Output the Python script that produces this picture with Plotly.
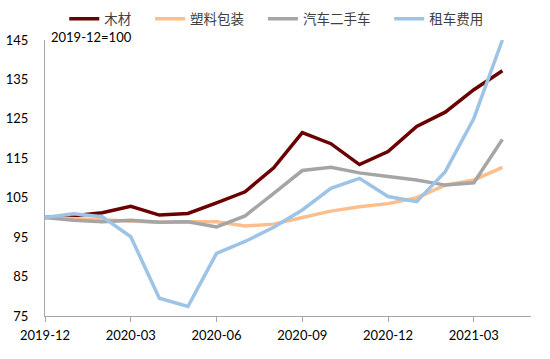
import plotly.graph_objects as go

months = ["2019-12", "2020-01", "2020-02", "2020-03", "2020-04", "2020-05", "2020-06",
          "2020-07", "2020-08", "2020-09", "2020-10", "2020-11", "2020-12",
          "2021-01", "2021-02", "2021-03", "2021-04"]
tick_labels = ["2019-12", "2020-03", "2020-06", "2020-09", "2020-12", "2021-03"]

wood = [100, 100.4, 101.2, 102.8, 100.6, 101.0, 103.7, 106.5, 112.6, 121.5, 118.7,
        113.4, 116.7, 123.1, 126.7, 132.4, 137.2]
plastic = [100, 99.7, 99.4, 98.9, 98.8, 98.9, 98.9, 97.8, 98.3, 100.0, 101.6,
           102.7, 103.5, 105.0, 108.2, 109.5, 112.7]
used_car = [100, 99.3, 98.9, 99.3, 98.8, 98.9, 97.6, 100.4, 106.1, 111.9, 112.7,
            111.3, 110.4, 109.5, 108.2, 108.8, 119.8]
rental = [100, 100.9, 100.2, 95.1, 79.5, 77.4, 90.9, 93.9, 97.5, 101.9, 107.4,
          109.9, 105.3, 104.0, 111.6, 125.1, 145.0]

series = [
    ("木材", wood, "#6B0000"),
    ("塑料包装", plastic, "#FBBF8F"),
    ("汽车二手车", used_car, "#A5A5A5"),
    ("租车费用", rental, "#9DC3E6"),
]

x_idx = list(range(len(months)))
tickvals = [months.index(t) for t in tick_labels]

PAD = "\u00a0" * 4

fig = go.Figure()
for name, vals, color in series:
    fig.add_trace(go.Scatter(x=x_idx, y=vals, name=name + PAD, mode="lines",
                             line=dict(color=color, width=3.5)))

font_family = "Lato, 'Noto Sans CJK SC', sans-serif"
fig.update_layout(
    width=550, height=359,
    margin=dict(l=45, r=19, t=40, b=43, autoexpand=False),
    paper_bgcolor="white", plot_bgcolor="white",
    font=dict(family=font_family, size=13, color="black"),
    legend=dict(orientation="h", x=0.515, xanchor="center", xref="container",
                y=1 - 19 / 359, yanchor="middle", yref="container",
                font=dict(size=13.5, color="#404040"),
                itemwidth=30, traceorder="normal", bgcolor="rgba(0,0,0,0)"),
    showlegend=True,
)

fig.update_xaxes(range=[0, 17], tickvals=tickvals, ticktext=tick_labels,
                 showgrid=False, zeroline=False, showline=True, linecolor="#A6A6A6",
                 linewidth=1.3, ticks="outside", ticklen=5, tickcolor="#A6A6A6",
                 tickfont=dict(size=13, color="black"), ticklabelstandoff=2,
                 automargin=False)
fig.update_yaxes(range=[75, 145], tickvals=[75, 85, 95, 105, 115, 125, 135, 145],
                 showgrid=False, zeroline=False, showline=True, linecolor="#A6A6A6",
                 linewidth=1.3, ticks="", tickfont=dict(size=13, color="black"),
                 ticklabelstandoff=13, automargin=False)

fig.add_annotation(text="2019-12=100", xref="paper", yref="paper", x=4 / 486,
                   y=1 + 3 / 276, xanchor="left", yanchor="middle", showarrow=False,
                   font=dict(size=13, color="black"))

fig.write_html("out.html", post_script="document.body.style.margin='0';",
               config={"displayModeBar": False})
